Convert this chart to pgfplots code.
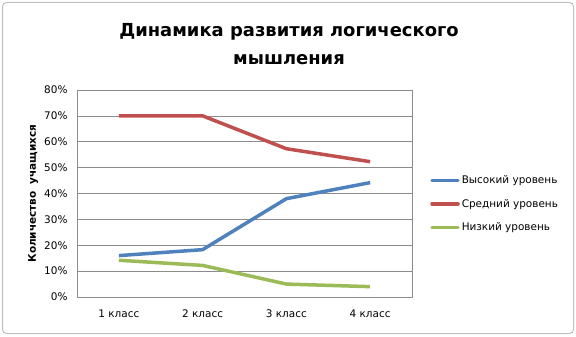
\documentclass[border=0pt]{standalone}
\usepackage{pgfplots}
\pgfplotsset{compat=1.18}
\usepackage{fontspec}
\setmainfont{DejaVu Sans}
\definecolor{cblue}{HTML}{4F81BD}
\definecolor{cred}{HTML}{C0504D}
\definecolor{cgreen}{HTML}{9BBB59}
\definecolor{gridc}{HTML}{8C8C8C}
\begin{document}
\begin{tikzpicture}[x=1bp,y=1bp]
\path[use as bounding box] (0,0) rectangle (576,336);
\draw[draw=black!25, line width=1bp, rounded corners=4bp] (2.5,2.5) rectangle (573.5,333.5);
\node[font=\bfseries\fontsize{18}{20}\selectfont] at (289,304) {Динамика развития логического};
\node[font=\bfseries\fontsize{18}{20}\selectfont] at (289,276) {мышления};
\begin{axis}[
  at={(77bp,39bp)}, anchor=south west,
  scale only axis, width=335bp, height=207bp,
  xmin=-0.5, xmax=3.5, ymin=0, ymax=80,
  xtick={0,1,2,3}, xticklabels={1 класс,2 класс,3 класс,4 класс},
  ytick={0,10,...,80},
  yticklabel={\pgfmathprintnumber{\tick}\%},
  /pgf/number format/assume math mode=true,
  ymajorgrids, grid style={gridc, line width=0.6bp},
  axis line style={gridc, line width=0.6bp},
  major tick length=0pt,
  tick label style={font=\fontsize{10.5}{12}\selectfont},
  xticklabel style={yshift=-9bp},
  yticklabel style={xshift=-6bp},
  ylabel={Количество\ \ учащихся},
  ylabel style={font=\bfseries\fontsize{10.5}{12}\selectfont, anchor=center, at={(axis description cs:-0.131,0.5)}},
  legend style={at={(1.045,0.45)}, anchor=west, draw=none, fill=none,
    font=\fontsize{10.5}{12}\selectfont, row sep=10bp,
    legend cell align=left},
  legend image code/.code={\draw[#1, line width=3.5bp, line cap=round] (0bp,0bp) -- (26bp,0bp);},
]
\addplot[cblue, line width=3.5bp, line join=round] coordinates {(0,16) (1,18.3) (2,38) (3,44.2)};
\addlegendentry{Высокий уровень}
\addplot[cred, line width=3.5bp, line join=round] coordinates {(0,70) (1,70) (2,57.3) (3,52.3)};
\addlegendentry{Средний\ уровень}
\addplot[cgreen, line width=3.5bp, line join=round] coordinates {(0,14.2) (1,12.2) (2,5) (3,4)};
\addlegendentry{Низкий уровень}
\end{axis}
\end{tikzpicture}
\end{document}
